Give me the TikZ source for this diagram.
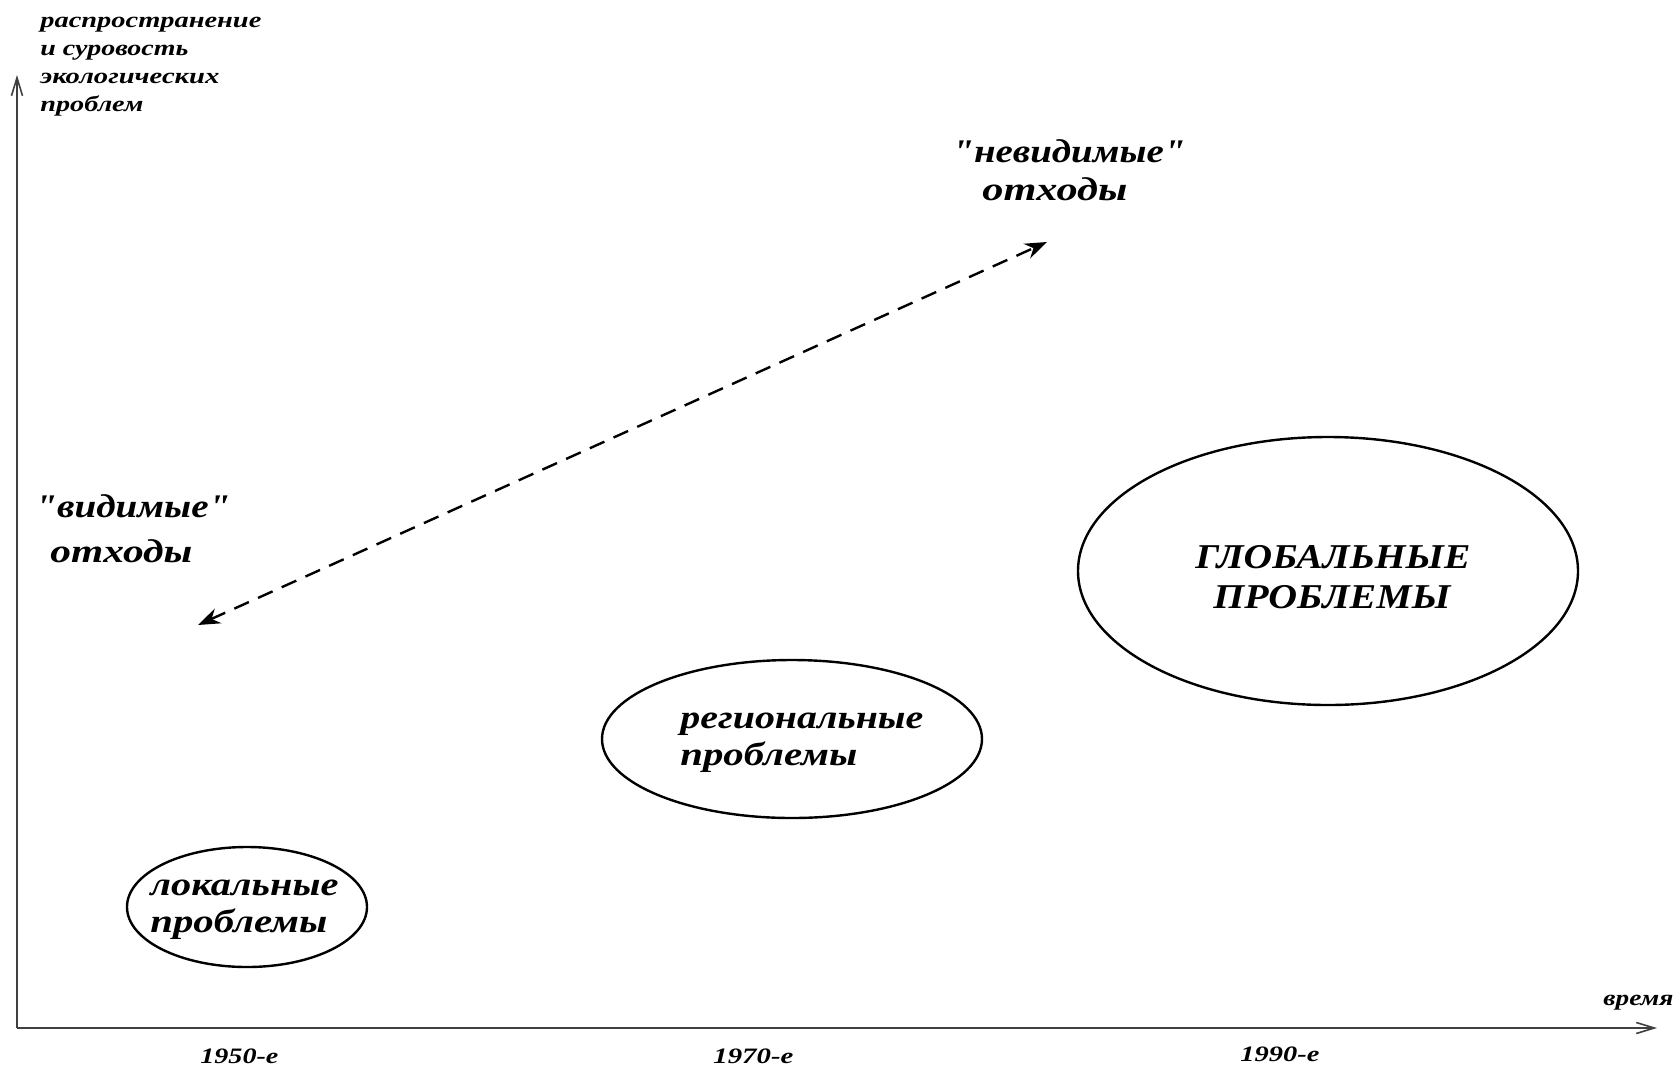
\documentclass[tikz,border=0pt]{standalone}
\usepackage{fontspec}
\setmainfont{Liberation Serif}[Ligatures=TeXOff]
\usetikzlibrary{shapes.geometric,arrows.meta}
\newcommand{\fitw}[2]{\resizebox{#1}{\height}{#2}}
\begin{document}
\begin{tikzpicture}[x=0.5pt,y=-0.5pt,
  lbl/.style={anchor=base west, inner sep=0pt},
  axislbl/.style={lbl, font=\fontsize{11}{14}\selectfont\bfseries\itshape},
  biglbl/.style={lbl, font=\fontsize{16.5}{19}\selectfont\bfseries\itshape},
  capslbl/.style={lbl, font=\fontsize{17.4}{20}\selectfont\bfseries\itshape},
  yearlbl/.style={lbl, font=\fontsize{11}{13}\selectfont\bfseries\itshape},
  blob/.style={draw=black, line width=1.2pt, shape=ellipse, inner sep=0pt},
  axis/.style={draw=black!75, line width=0.8pt, -{Straight Barb[length=9pt,width=5.5pt]}},
  waste/.style={draw=black, line width=1.2pt, dash pattern=on 8pt off 5pt, {Stealth[length=11pt,width=8pt]}-{Stealth[length=11pt,width=8pt]}}
]
\fill[white] (0,0) rectangle (1677,1067);
\useasboundingbox (0,0) rectangle (1677,1067);

% axes
\coordinate (origin) at (17,1028);
\coordinate (ytop) at (17,75);
\coordinate (xend) at (1657,1028);
\draw[axis] (origin) -- (ytop);
\draw[axis] (origin) -- (xend);

% axis labels
\node[axislbl] (yl1) at (40,27) {\fitw{110.5pt}{распространение}};
\node[axislbl] (yl2) at (40,55) {\fitw{74pt}{и суровость}};
\node[axislbl] (yl3) at (40,83) {\fitw{89.5pt}{экологических}};
\node[axislbl] (yl4) at (40,111) {\fitw{51.5pt}{проблем}};
\node[yearlbl] (xl) at (1603,1005) {\fitw{35pt}{время}};

\node[yearlbl] (y1950) at (200,1063) {\fitw{39pt}{1950-е}};
\node[yearlbl] (y1970) at (713,1063) {\fitw{40pt}{1970-е}};
\node[yearlbl] (y1990) at (1240,1061) {\fitw{39.5pt}{1990-е}};

% waste labels
\node[biglbl] (vis1) at (35,517) {\fitw{97.5pt}{"видимые"}};
\node[biglbl] (vis2) at (50,562) {\fitw{71pt}{отходы}};
\node[biglbl] (inv1) at (952,162) {\fitw{116.5pt}{"невидимые"}};
\node[biglbl] (inv2) at (982,200) {\fitw{72.5pt}{отходы}};

\coordinate (visend) at (198,625);
\coordinate (invend) at (1047,242);
\draw[waste] (visend) -- (invend);

% ellipses
\node[blob, minimum width=120pt, minimum height=60pt] (local) at (247,907) {};
\node[blob, minimum width=190pt, minimum height=79pt] (regional) at (792,739) {};
\node[blob, minimum width=250pt, minimum height=134pt] (global) at (1328,571) {};

\node[biglbl] (loc1) at (150,895) {\fitw{94pt}{локальные}};
\node[biglbl] (loc2) at (150,932) {\fitw{88.5pt}{проблемы}};
\node[biglbl] (reg1) at (680,728) {\fitw{121.5pt}{региональные}};
\node[biglbl] (reg2) at (680,765) {\fitw{88.5pt}{проблемы}};
\node[capslbl] (glo1) at (1195,568) {\fitw{137.5pt}{ГЛОБАЛЬНЫЕ}};
\node[capslbl] (glo2) at (1213,608) {\fitw{118.5pt}{ПРОБЛЕМЫ}};
\end{tikzpicture}
\end{document}
